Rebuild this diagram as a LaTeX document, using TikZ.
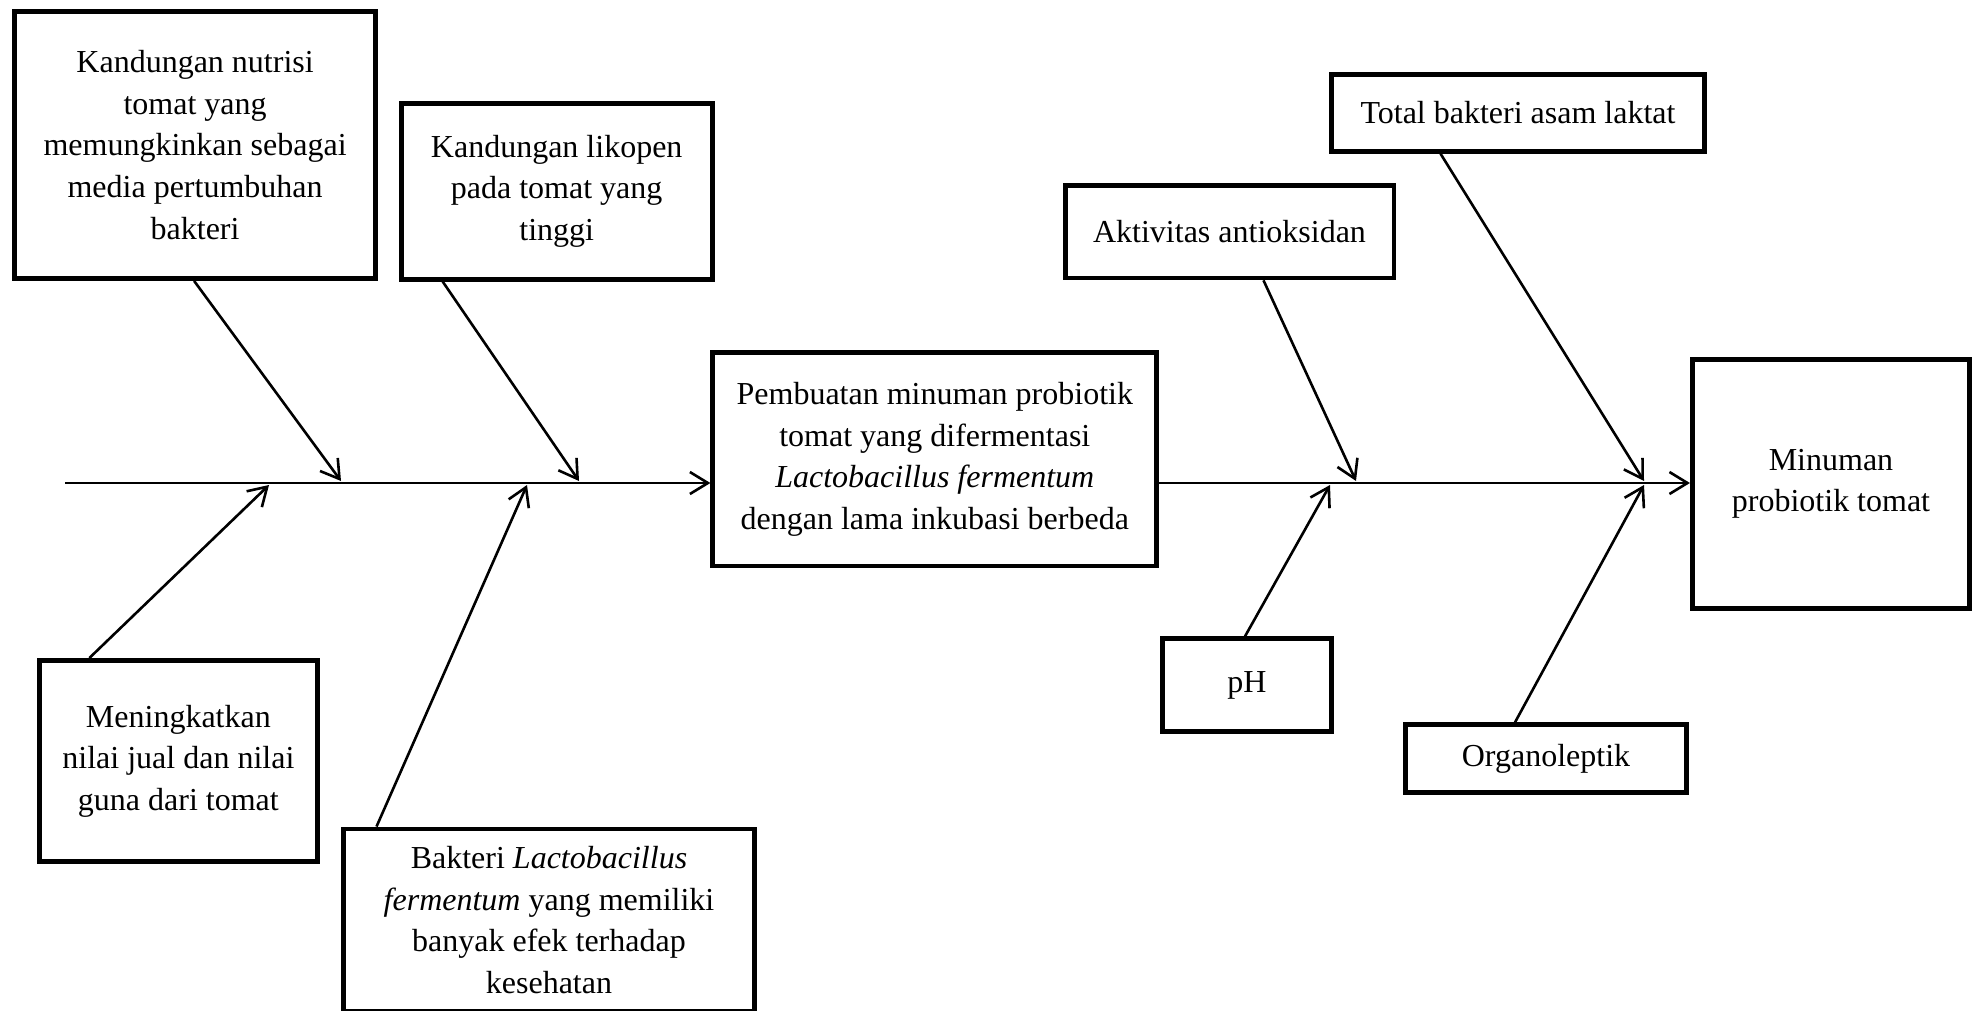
\documentclass[tikz,border=0pt]{standalone}
\usepackage{fontspec}
\setmainfont{Liberation Serif}
\usetikzlibrary{arrows.meta,calc}
\begin{document}
\begin{tikzpicture}[x=0.5pt,y=-0.5pt,
  box/.style={draw,line width=2.4pt,inner sep=0pt,align=center,
    font=\fontsize{16}{20.8}\selectfont},
  arr/.style={line width=1.3pt,-{Straight Barb[length=9pt,width=11pt,line width=1.3pt]}}]
\useasboundingbox (0,0) rectangle (1977,1011);
% boxes
\node[box,minimum width=180.5pt,minimum height=133.5pt] (k1) at (195.1,145)
  {Kandungan nutrisi\\tomat yang\\memungkinkan sebagai\\media pertumbuhan\\bakteri};
\node[box,minimum width=155.5pt,minimum height=88pt] (k2) at (556.7,191.2)
  {Kandungan likopen\\pada tomat yang\\tinggi};
\node[box,minimum width=222pt,minimum height=106.75pt] (c) at (934.8,459.2)
  {Pembuatan minuman probiotik\\tomat yang difermentasi\\\textit{Lactobacillus fermentum}\\dengan lama inkubasi berbeda};
\node[box,minimum width=138.75pt,minimum height=100.6pt] (m3) at (178.4,761)
  {Meningkatkan\\nilai jual dan nilai\\guna dari tomat};
\node[box,minimum width=205.75pt,minimum height=91pt] (b4) at (549,920)
  {Bakteri \textit{Lactobacillus}\\\textit{fermentum} yang memiliki\\banyak efek terhadap\\kesehatan};
\node[box,minimum width=186.25pt,minimum height=38.25pt] (tb) at (1518,113)
  {Total bakteri asam laktat};
\node[box,minimum width=164.4pt,minimum height=46.25pt] (ak) at (1229.5,231.7)
  {Aktivitas antioksidan};
\node[box,minimum width=84.25pt,minimum height=46.25pt] (ph) at (1247,685)
  {pH};
\node[box,minimum width=140.25pt,minimum height=33.75pt] (org) at (1546,758.5)
  {Organoleptik};
\node[box,minimum width=138.65pt,minimum height=124.65pt] (mn) at (1831,484)
  {Minuman\\probiotik tomat};
% spine
\coordinate (L) at (65,483);
\draw[arr] (L) -- (L -| c.west);
\draw[arr] (c.east |- L) -- (mn.west |- L);
% end points on spine
\coordinate (e1) at (341,481);
\coordinate (e2) at (579,481);
\coordinate (e3) at (269,485);
\coordinate (e4) at (527,485);
\coordinate (e5) at (1356,481);
\coordinate (e6) at (1644,481);
\coordinate (e7) at (1330,485);
\coordinate (e8) at (1644,485);
% bones
\draw[arr] ([xshift=-0.5pt]k1.south) -- (e1);
\draw[arr] ([xshift=-57pt]k2.south) -- (e2);
\draw[arr] ([xshift=-44.5pt]m3.north) -- (e3);
\draw[arr] ([xshift=-86.25pt]b4.north) -- (e4);
\draw[arr] ([xshift=17pt]ak.south) -- (e5);
\draw[arr] ([xshift=-38.75pt]tb.south) -- (e6);
\draw[arr] ([xshift=-1pt]ph.north) -- (e7);
\draw[arr] ([xshift=-15.5pt]org.north) -- (e8);
\end{tikzpicture}
\end{document}
